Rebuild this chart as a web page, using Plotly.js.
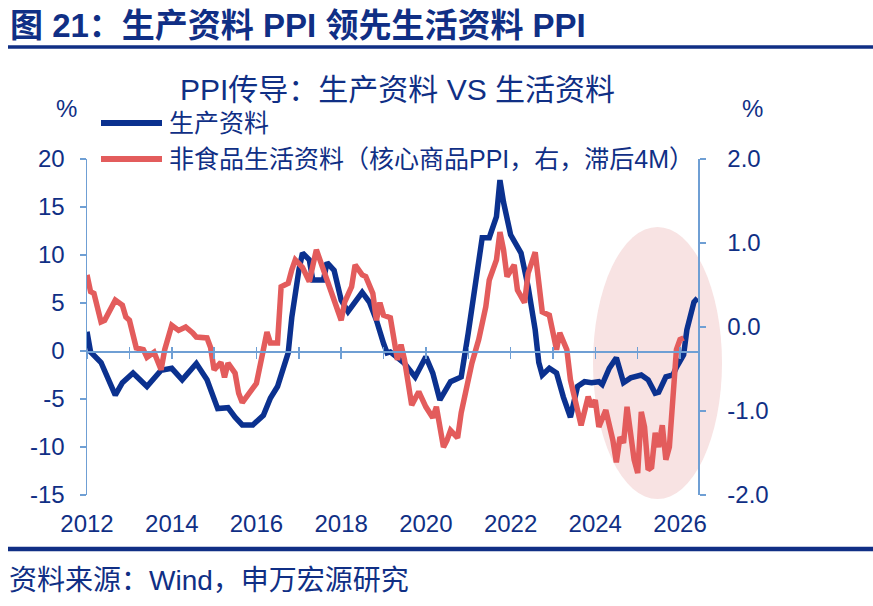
<!DOCTYPE html>
<html>
<head>
<meta charset="utf-8">
<script src="https://cdn.plot.ly/plotly-3.0.1.min.js"></script>
<style>
  html, body { margin: 0; padding: 0; background: #fff; }
  #chart { width: 873px; height: 606px; }
</style>
</head>
<body>
<div id="chart"></div>
<script>
// ---- data (monthly YoY, %) ----
const prodDates = [
  '2012-01','2012-02','2012-05','2012-09','2012-11','2013-02','2013-06','2013-10',
  '2014-01','2014-04','2014-08','2014-11','2015-02','2015-05','2015-07','2015-09',
  '2015-12','2016-03','2016-05','2016-07','2016-10','2016-11','2017-01','2017-02',
  '2017-04','2017-05','2017-08','2017-09','2017-11','2018-01','2018-03','2018-05',
  '2018-07','2018-09','2018-11','2019-01','2019-02','2019-03','2019-07','2019-10',
  '2020-01','2020-03','2020-05','2020-08','2020-11','2021-01','2021-05','2021-07',
  '2021-09','2021-10','2021-11','2022-01','2022-03','2022-04','2022-06','2022-08',
  '2022-09','2022-10','2022-12','2023-02','2023-04','2023-06','2023-08','2023-10',
  '2023-12','2024-02','2024-03','2024-05','2024-07','2024-08','2024-09','2024-11',
  '2025-02','2025-04','2025-06','2025-07','2025-09','2025-11','2025-12','2026-02',
  '2026-03','2026-05','2026-06'
];
const prodPPI = [
  2.0, -0.1, -1.2, -4.6, -3.3, -2.3, -3.7, -2.0,
  -1.8, -3.0, -1.3, -3.0, -6.0, -5.9, -6.9, -7.7,
  -7.7, -6.7, -4.9, -3.7, -0.2, 3.5, 8.4, 10.2,
  9.5, 7.4, 7.4, 9.2, 8.4, 5.3, 4.1, 5.1,
  6.1, 5.1, 3.2, 0.8, -0.2, -0.1, -1.3, -2.7,
  -0.6, -2.3, -5.1, -3.2, -2.7, 1.9, 11.8, 11.8,
  14.0, 17.8, 15.5, 12.1, 11.0, 10.2, 6.7, 2.2,
  -1.2, -2.5, -1.8, -2.3, -4.8, -6.9, -3.7, -3.2,
  -3.3, -3.2, -3.5, -1.8, -0.7, -2.2, -3.3, -2.8,
  -2.5, -3.0, -4.4, -4.3, -2.7, -2.5, -1.7, -0.4,
  2.2, 5.1, 5.5
];

// core goods PPI, right axis, already shifted 4 months forward
const consDates = [
  '2012-01','2012-02','2012-03','2012-05','2012-06','2012-08','2012-09','2012-11',
  '2012-12','2013-01','2013-03','2013-05','2013-06','2013-08','2013-10','2013-11',
  '2013-12','2014-01','2014-03','2014-05','2014-07','2014-08','2014-11','2014-12',
  '2015-01','2015-03','2015-04','2015-05','2015-07','2015-08','2015-09','2015-11',
  '2016-01','2016-03','2016-04','2016-05','2016-07','2016-08','2016-10','2016-11',
  '2016-12','2017-02','2017-04','2017-06','2017-08','2017-10','2017-11','2018-01',
  '2018-02','2018-04','2018-05','2018-07','2018-08','2018-10','2018-11','2018-12',
  '2019-01','2019-03','2019-05','2019-06','2019-07','2019-09','2019-11','2020-01',
  '2020-03','2020-04','2020-06','2020-07','2020-08','2020-10','2020-11','2021-01',
  '2021-02','2021-04','2021-06','2021-07','2021-09','2021-10','2021-11','2021-12',
  '2022-02','2022-03','2022-05','2022-06','2022-08','2022-10','2022-12','2023-02',
  '2023-03','2023-05','2023-06','2023-08','2023-09','2023-11','2023-12','2024-01',
  '2024-02','2024-04','2024-06','2024-07','2024-08','2024-09','2024-10','2024-12',
  '2025-01','2025-02','2025-03','2025-04','2025-05','2025-06','2025-07','2025-08',
  '2025-09','2025-10','2025-12','2026-01','2026-02'
];
const coreGoodsPPI = [
  0.62, 0.42, 0.40, 0.06, 0.08, 0.24, 0.32, 0.26,
  0.12, 0.08, -0.25, -0.27, -0.36, -0.30, -0.51, -0.27,
  -0.15, 0.02, -0.04, 0.00, -0.07, -0.12, -0.13, -0.24,
  -0.51, -0.42, -0.60, -0.43, -0.55, -0.79, -0.90, -0.77,
  -0.67, -0.27, -0.06, -0.19, -0.19, 0.48, 0.52, 0.68,
  0.80, 0.71, 0.54, 0.92, 0.68, 0.46, 0.36, 0.08,
  0.30, 0.48, 0.74, 0.62, 0.60, 0.40, 0.08, 0.29,
  0.14, 0.11, -0.39, -0.21, -0.39, -0.93, -0.77, -0.95,
  -1.08, -0.95, -1.43, -1.35, -1.23, -1.32, -1.02, -0.63,
  -0.43, -0.15, 0.24, 0.56, 0.80, 1.13, 0.92, 0.60,
  0.74, 0.44, 0.29, 0.64, 0.89, 0.18, 0.14, -0.27,
  -0.07, -0.27, -0.63, -0.99, -1.17, -0.83, -0.95, -0.87,
  -1.19, -0.99, -1.35, -1.61, -1.31, -1.38, -0.95, -1.58,
  -1.74, -1.01, -1.19, -1.70, -1.67, -1.26, -1.43, -1.17,
  -1.58, -1.43, -0.27, -0.15, -0.13
];

const legendNames = ['生产资料', '非食品生活资料（核心商品PPI，右，滞后4M）'];

// axis tick labels (plain hyphen minus, as in the source)
const leftTickVals = [-15, -10, -5, 0, 5, 10, 15, 20];
const leftTickText = ['-15', '-10', '-5', '0', '5', '10', '15', '20'];
const rightTickVals = [-2, -1, 0, 1, 2];
const rightTickText = ['-2.0', '-1.0', '0.0', '1.0', '2.0'];

// ---- styling ----
const NAVY = '#102f85';
const BLUE = '#0b318f';
const RED = '#e35c5c';
const AXIS = '#6f9fd4';
const FONT = 'Liberation Sans, Noto Sans CJK SC, sans-serif';

// plot area in pixels: x 87..698, y 159..495
const PL = 87, PR = 698, PT = 159, PB = 495;
const px = x => (x - PL) / (PR - PL);
const py = y => (PB - y) / (PB - PT);

const xRange = ['2012-01-01', '2026-06-05'];
const zeroPos = 15 / 35;   // where 0 sits on the left axis (-15..20)

const traces = [
  {
    x: prodDates, y: prodPPI, type: 'scatter', mode: 'lines',
    name: legendNames[0], line: { color: BLUE, width: 5.5 },
    xaxis: 'x', yaxis: 'y', hoverinfo: 'skip',
  },
  {
    x: consDates, y: coreGoodsPPI, type: 'scatter', mode: 'lines',
    name: legendNames[1], line: { color: RED, width: 5.5 },
    xaxis: 'x', yaxis: 'y2', hoverinfo: 'skip',
  },
  // empty helpers so the year tick marks on the zero line get drawn
  { x: [xRange[0]], y: [null], xaxis: 'x2', yaxis: 'y', showlegend: false, hoverinfo: 'skip' },
  { x: [xRange[0]], y: [null], xaxis: 'x3', yaxis: 'y', showlegend: false, hoverinfo: 'skip' },
];

const tickFont = { family: FONT, size: 24, color: NAVY };

const yearTicks = {
  type: 'date', range: xRange, overlaying: 'x', anchor: 'free', position: zeroPos,
  dtick: 'M12', tick0: '2012-01-01', showticklabels: false, showgrid: false,
  zeroline: false, tickcolor: AXIS, tickwidth: 1.5,
};

const layout = {
  width: 873, height: 606,
  margin: { l: PL, r: 873 - PR, t: PT, b: 606 - PB, pad: 0 },
  paper_bgcolor: '#fff', plot_bgcolor: '#fff',
  showlegend: false,
  font: { family: FONT, color: NAVY },
  xaxis: {
    type: 'date', range: xRange, dtick: 'M24', tick0: '2012-01-01', tickformat: '%Y',
    showline: false, showgrid: false, zeroline: false, ticks: '',
    tickfont: tickFont, ticklabelstandoff: 12,
  },
  xaxis2: Object.assign({}, yearTicks, { showline: true, linecolor: AXIS, linewidth: 1.5, ticks: 'outside', ticklen: 6 }),
  xaxis3: Object.assign({}, yearTicks, { showline: false, ticks: 'inside', ticklen: 4 }),
  yaxis: {
    range: [-15, 20], tickmode: 'array', tickvals: leftTickVals, ticktext: leftTickText,
    showgrid: false, zeroline: false,
    showline: true, linecolor: AXIS, linewidth: 1.5,
    ticks: 'outside', ticklen: 6, tickcolor: AXIS, tickwidth: 1.5,
    tickfont: tickFont, ticklabelstandoff: 10,
  },
  yaxis2: {
    range: [-2, 2], tickmode: 'array', tickvals: rightTickVals, ticktext: rightTickText,
    overlaying: 'y', side: 'right',
    showgrid: false, zeroline: false,
    showline: true, linecolor: AXIS, linewidth: 1.5,
    ticks: 'outside', ticklen: 6, tickcolor: AXIS, tickwidth: 1.5,
    tickfont: tickFont, ticklabelstandoff: 17,
  },
  shapes: [
    // highlight ellipse
    { type: 'circle', xref: 'paper', yref: 'paper', layer: 'below',
      x0: px(593), x1: px(722), y0: py(499), y1: py(227),
      fillcolor: '#f8e3e3', line: { width: 0 } },
    // header & footer rules
    { type: 'line', xref: 'paper', yref: 'paper', x0: px(8), x1: px(873), y0: py(47), y1: py(47),
      line: { color: NAVY, width: 3.5 } },
    { type: 'line', xref: 'paper', yref: 'paper', x0: px(8), x1: px(873), y0: py(549), y1: py(549),
      line: { color: NAVY, width: 4.5 } },
    // legend samples
    { type: 'line', xref: 'paper', yref: 'paper', x0: px(101), x1: px(162), y0: py(123), y1: py(123),
      line: { color: BLUE, width: 6 } },
    { type: 'line', xref: 'paper', yref: 'paper', x0: px(101), x1: px(162), y0: py(159), y1: py(159),
      line: { color: RED, width: 6 } },
  ],
  annotations: [
    { text: '<b>图 21：生产资料 PPI 领先生活资料 PPI</b>', xref: 'paper', yref: 'paper',
      x: px(8), y: py(25), xanchor: 'left', yanchor: 'middle', showarrow: false,
      font: { family: FONT, size: 33, color: NAVY } },
    { text: 'PPI传导：生产资料 VS 生活资料', xref: 'paper', yref: 'paper',
      x: px(397), y: py(89), xanchor: 'center', yanchor: 'middle', showarrow: false,
      font: { family: FONT, size: 30, color: NAVY } },
    { text: '%', xref: 'paper', yref: 'paper', x: px(66), y: py(108),
      xanchor: 'center', yanchor: 'middle', showarrow: false, font: { family: FONT, size: 24, color: NAVY } },
    { text: '%', xref: 'paper', yref: 'paper', x: px(752), y: py(108),
      xanchor: 'center', yanchor: 'middle', showarrow: false, font: { family: FONT, size: 24, color: NAVY } },
    { text: legendNames[0], xref: 'paper', yref: 'paper', x: px(167), y: py(123),
      xanchor: 'left', yanchor: 'middle', showarrow: false, font: { family: FONT, size: 25, color: NAVY } },
    { text: legendNames[1], xref: 'paper', yref: 'paper', x: px(167), y: py(159),
      xanchor: 'left', yanchor: 'middle', showarrow: false, font: { family: FONT, size: 25, color: NAVY } },
    { text: '资料来源：Wind，申万宏源研究', xref: 'paper', yref: 'paper',
      x: px(7), y: py(580), xanchor: 'left', yanchor: 'middle', showarrow: false,
      font: { family: FONT, size: 28, color: NAVY } },
  ],
};

Plotly.newPlot('chart', traces, layout, { displayModeBar: false, staticPlot: true });
</script>
</body>
</html>
